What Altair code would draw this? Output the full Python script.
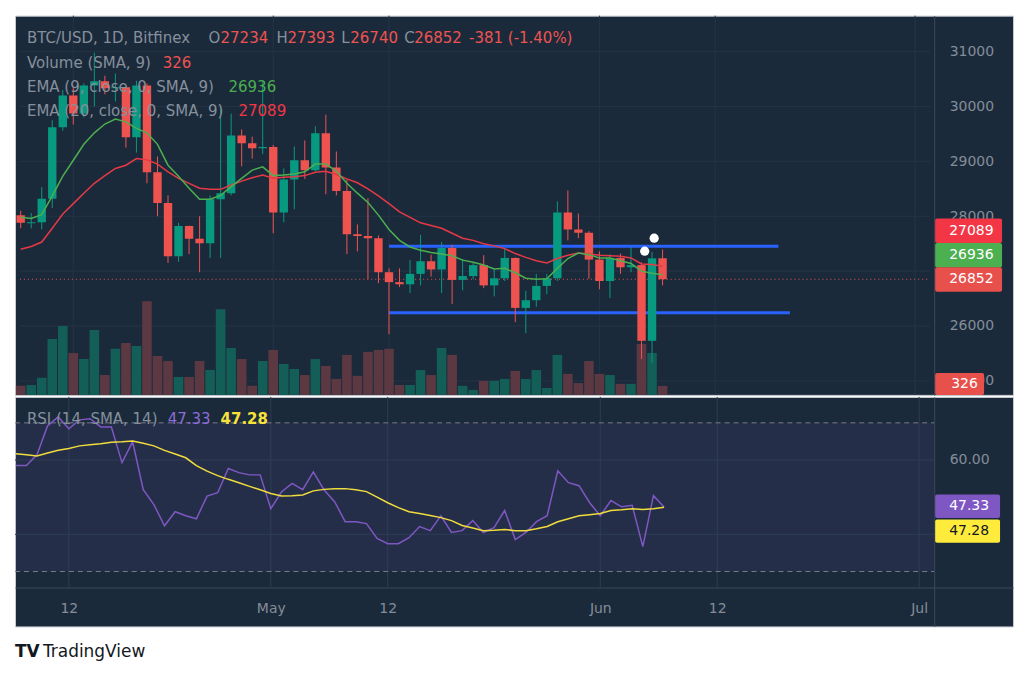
import altair as alt
import pandas as pd
import numpy as np

# ------------------------------------------------------------------ data
dates = pd.date_range("2023-04-07", "2023-06-07", freq="D")

opens = [28020, 27870, 27890, 28320, 29620, 30200, 29870, 30380, 30460, 30330,
         30350, 29440, 30380, 28800, 28240, 27270, 27820, 27590, 27510, 28310,
         28420, 29470, 29330, 29240, 29260, 28070, 28670, 29020, 28840, 29510,
         28890, 28460, 27670, 27640, 27600, 26980, 26800, 26760, 26950, 27180,
         27030, 27420, 26840, 26910, 27110, 26740, 26870, 27240, 26330, 26470,
         26730, 26870, 28070, 27760, 27700, 27210, 26820, 27240, 27070, 27110,
         25730, 27234]
highs = [28100, 28060, 28530, 29750, 30300, 30360, 30420, 30980, 30560, 30600,
         30360, 30470, 30420, 29090, 28380, 27880, 27830, 28000, 28380, 30020,
         29870, 29580, 29450, 30450, 29300, 28870, 29270, 29380, 29640, 29850,
         29180, 28670, 27850, 28330, 27650, 27050, 27050, 27200, 27660, 27300,
         27530, 27480, 27220, 27170, 27290, 27040, 27420, 27250, 26640, 26950,
         26950, 28270, 28470, 28050, 27730, 27360, 27310, 27320, 27440, 27160,
         27350, 27393]
lows = [27780, 27780, 27760, 28150, 29560, 29670, 29800, 30000, 30220, 30090,
        29250, 29160, 28600, 28000, 27150, 27170, 27310, 26980, 27240, 27240,
        28380, 28910, 29050, 29130, 27690, 27890, 28130, 28680, 28810, 28400,
        28380, 27310, 27360, 26850, 26780, 25850, 26710, 26600, 26740, 26900,
        26600, 26400, 26650, 26850, 26690, 26540, 26820, 26070, 25870, 26350,
        26580, 26820, 27560, 27600, 26860, 26670, 26510, 26950, 26980, 25400,
        25330, 26740]
closes = [27880, 27890, 28320, 29620, 30200, 29870, 30380, 30460, 30330, 30350,
          29440, 30380, 28800, 28240, 27270, 27820, 27590, 27510, 28310, 28420,
          29470, 29330, 29240, 29260, 28070, 28670, 29020, 28840, 29510, 28890,
          28460, 27670, 27640, 27600, 26980, 26800, 26760, 26950, 27180, 27030,
          27420, 26840, 26910, 27110, 26740, 26870, 27240, 26330, 26470, 26730,
          26870, 28070, 27760, 27700, 27210, 26820, 27240, 27070, 27110, 25730,
          27233, 26852]
volumes = [330, 360, 620, 2030, 2500, 1520, 1300, 2350, 720, 1670,
           1880, 1770, 3400, 1410, 1230, 650, 650, 1230, 900, 3110,
           1700, 1300, 330, 1230, 1630, 1120, 940, 720, 1300, 1050,
           580, 1450, 690, 1560, 1630, 1670, 360, 360, 900, 720,
           1700, 1450, 330, 180, 510, 510, 580, 870, 580, 900,
           250, 1450, 760, 430, 1230, 760, 720, 400, 400, 1850,
           1520, 326]
ema9 = [27980, 27960, 28030, 28370, 28730, 29020, 29310, 29520, 29680, 29770,
        29720, 29600, 29520, 29310, 28930, 28730, 28510, 28310, 28310, 28380,
        28540, 28690, 28840, 28900, 28740, 28750, 28770, 28810, 28950, 28950,
        28820, 28600, 28420, 28250, 28020, 27760, 27560, 27440, 27380, 27340,
        27310, 27280, 27200, 27160, 27110, 27040, 27050, 26970, 26870, 26850,
        26860, 27050, 27230, 27330, 27300, 27240, 27240, 27190, 27140, 27000,
        26960, 26936]
ema20 = [27400, 27450, 27530, 27780, 28040, 28230, 28420, 28600, 28740, 28870,
         28930, 29050, 29030, 28950, 28810, 28690, 28600, 28510, 28490, 28490,
         28570, 28640, 28700, 28750, 28690, 28710, 28720, 28740, 28800, 28820,
         28760, 28680, 28610, 28500, 28370, 28230, 28080, 27980, 27880, 27830,
         27780, 27690, 27600, 27560, 27500, 27460, 27410, 27320, 27250, 27190,
         27150, 27230, 27290, 27330, 27310, 27290, 27280, 27270, 27240, 27130,
         27120, 27089]
rsi = [58.5, 58.5, 61.4, 69.2, 71.6, 68.4, 70.8, 71.1, 68.9, 68.9,
       59.3, 64.9, 52.0, 48.0, 42.3, 46.1, 45.0, 44.2, 50.3, 51.2,
       57.7, 56.6, 56.0, 56.0, 46.9, 51.4, 53.7, 52.0, 56.8, 52.0,
       48.8, 43.4, 43.4, 42.9, 38.9, 37.5, 37.5, 39.1, 42.1, 41.0,
       45.0, 40.5, 41.0, 43.7, 40.5, 41.8, 46.4, 38.6, 40.5, 43.4,
       45.0, 57.1, 53.9, 53.1, 48.5, 45.0, 49.1, 47.4, 47.8, 36.7,
       50.4, 47.33]
rsi_ma = [61.7, 61.4, 61.1, 61.9, 62.6, 63.1, 63.8, 64.1, 64.4, 64.8,
          64.9, 65.1, 64.5, 63.8, 62.6, 61.6, 60.6, 58.5, 57.0, 55.8,
          54.8, 53.9, 52.9, 52.0, 51.0, 50.3, 50.4, 50.6, 51.7, 52.1,
          52.3, 52.3, 52.0, 51.5, 50.0, 48.5, 47.2, 46.1, 45.6, 45.1,
          44.5, 43.7, 42.4, 41.7, 41.0, 41.1, 41.3, 41.0, 41.0, 41.5,
          42.1, 43.4, 44.2, 45.0, 45.3, 45.6, 46.4, 46.6, 46.9, 46.7,
          46.9, 47.28]

price_grid = [25000, 26000, 27000, 28000, 29000, 30000, 31000]
price_labels = [25000, 26000, 28000, 29000, 30000, 31000]   # 27000 sits under the badges
rsi_grid = [40, 60]
rsi_labels = [60]                                            # 40.00 sits under the badge
rsi_bands = [70, 30]
time_tick_dates = ["2023-04-12", "2023-05-01", "2023-05-12", "2023-06-01", "2023-06-12", "2023-07-01"]
time_tick_labels = ["12", "May", "12", "Jun", "12", "Jul"]

# drawn support / resistance levels (day offsets from Apr 12)
level_price = [27455, 26240]
level_start = [30, 30]
level_end = [67.0, 68.1]
marker_day = [54.3, 55.2]
marker_price = [27364, 27600]

# ------------------------------------------------------------------ style
FONT = "DejaVu Sans"
BG = "#1b2a3b"
GRID = "#243446"
RGRID = "#2e3d56"
SEP = "#3a4858"
FRAME = "#c9cdd3"
GRAY = "#86909c"
LBL = "#848d99"
UP, DOWN = "#089981", "#ef5350"
VUP, VDOWN = "#135e57", "#5c3842"
EMA9C, EMA20C = "#4caf50", "#e53945"
PURPLE, YELLOW = "#7e57c2", "#f0dc3c"

W, H1, H2 = 1000, 380, 230
XMIN, XMAX, XSEP = -5.07, 88.83, 81.41
PMIN, PMAX = 24745, 31655
VMAX = 13756
RMIN, RMAX = 15.23, 76.98

REF = pd.Timestamp("2023-04-12")
day = [(t - REF).days for t in dates]
tick_days = [(pd.Timestamp(t) - REF).days for t in time_tick_dates]

df = pd.DataFrame({"d": day, "open": opens, "high": highs, "low": lows, "close": closes,
                   "volume": volumes, "ema9": ema9, "ema20": ema20, "rsi": rsi, "rsi_ma": rsi_ma})
up = df["close"] >= df["open"]
df["body_color"] = np.where(up, UP, DOWN)
df["vol_color"] = np.where(up, VUP, VDOWN)

xs = alt.Scale(domain=[XMIN, XMAX], nice=False, zero=False)
ps = alt.Scale(domain=[PMIN, PMAX], nice=False, zero=False)
vs = alt.Scale(domain=[0, VMAX], nice=False, zero=False)
rs = alt.Scale(domain=[RMIN, RMAX], nice=False, zero=False)


def X(f, axis=None):
    if axis is None:
        return alt.X(f, type="quantitative", scale=xs, axis=None)
    return alt.X(f, type="quantitative", scale=xs, axis=axis)


def PY(f, axis=None):
    if axis is None:
        return alt.Y(f, type="quantitative", scale=ps, axis=None)
    return alt.Y(f, type="quantitative", scale=ps, axis=axis)


def RY(f, axis=None):
    if axis is None:
        return alt.Y(f, type="quantitative", scale=rs, axis=None)
    return alt.Y(f, type="quantitative", scale=rs, axis=axis)


def label(text, x, y, color, size=15, weight="normal", align="left"):
    return alt.Chart(pd.DataFrame({"t": [text]})).mark_text(
        align=align, baseline="middle", font=FONT, fontSize=size, fontWeight=weight, color=color
    ).encode(x=alt.value(x), y=alt.value(y), text="t:N")


# ------------------------------------------------------------------ price pane
price_axis = alt.Axis(orient="right", offset=-79, values=price_labels, format="d", grid=False,
                      ticks=False, tickSize=0, domainColor=SEP, domainWidth=1, labelColor=LBL,
                      labelFont=FONT, labelFontSize=14, labelPadding=15, labelAlign="left",
                      labelBaseline="middle", zindex=0, title=None)

hgrid = alt.Chart(pd.DataFrame({"price": price_grid, "x0": XMIN, "x1": XSEP})).mark_rule(
    color=GRID, strokeWidth=1).encode(x=X("x0"), x2="x1", y=PY("price", price_axis))
vgrid = alt.Chart(pd.DataFrame({"d": tick_days})).mark_rule(color=GRID, strokeWidth=1).encode(
    x=X("d"), y=alt.value(0), y2=alt.value(H1))
vol = alt.Chart(df).mark_bar(size=9.6, clip=True).encode(
    x=X("d"), y=alt.Y("volume:Q", scale=vs, axis=None), color=alt.Color("vol_color:N", scale=None))
last_line = alt.Chart(pd.DataFrame({"price": [closes[-1]], "x0": XMIN, "x1": XSEP})).mark_rule(
    color=DOWN, strokeWidth=1, strokeDash=[1, 3]).encode(x=X("x0"), x2="x1", y=PY("price"))
levels = alt.Chart(pd.DataFrame({"price": level_price, "s": level_start, "e": level_end})).mark_rule(
    color="#2962ff", strokeWidth=3).encode(x=X("s"), x2="e", y=PY("price"))
wicks = alt.Chart(df).mark_rule(strokeWidth=1, clip=True).encode(
    x=X("d"), y=PY("low"), y2="high", color=alt.Color("body_color:N", scale=None))
bodies = alt.Chart(df).mark_bar(size=8.4, clip=True).encode(
    x=X("d"), y=PY("open"), y2="close", color=alt.Color("body_color:N", scale=None))
l20 = alt.Chart(df).mark_line(color=EMA20C, strokeWidth=1.5, clip=True).encode(x=X("d"), y=PY("ema20"))
l9 = alt.Chart(df).mark_line(color=EMA9C, strokeWidth=1.5, clip=True).encode(x=X("d"), y=PY("ema9"))
dots = alt.Chart(pd.DataFrame({"d": marker_day, "price": marker_price})).mark_circle(
    color="white", size=85, opacity=1).encode(x=X("d"), y=PY("price"))

HALF_P = 223
badge_df = pd.DataFrame({"label": [str(ema20[-1]), str(ema9[-1]), str(closes[-1])],
                         "yc": [27736, 27291, 26848],
                         "fill": ["#f23645", "#4caf50", "#e8504c"]})
badge_df["y0"] = badge_df["yc"] - HALF_P
badge_df["y1"] = badge_df["yc"] + HALF_P
badges = alt.Chart(badge_df).mark_rect(cornerRadius=2).encode(
    x=alt.value(922), x2=alt.value(989), y=PY("y0"), y2="y1", color=alt.Color("fill:N", scale=None))
badge_txt = alt.Chart(badge_df).mark_text(align="left", baseline="middle", font=FONT, fontSize=14,
                                          color="white").encode(x=alt.value(936), y=PY("yc"), text="label:N")
vbadge = alt.Chart(pd.DataFrame({"t": [str(volumes[-1])]})).mark_rect(color="#e8504c", cornerRadius=2).encode(
    x=alt.value(922), x2=alt.value(971), y=alt.value(358), y2=alt.value(380))
vbadge_txt = label(str(volumes[-1]), 938, 369, "white", size=14)

chg = closes[-1] - closes[-2]
pct = chg / closes[-2] * 100
RED = "#ef5350"
head = [
    ("BTC/USD, 1D, Bitfinex", 12, 22, GRAY),
    ("O", 194, 22, GRAY), (str(opens[-1]), 206, 22, RED),
    ("H", 262, 22, GRAY), (str(highs[-1]), 273, 22, RED),
    ("L", 327, 22, GRAY), (str(lows[-1]), 336, 22, RED),
    ("C", 390, 22, GRAY), (str(closes[-1]), 400, 22, RED),
    (f"{chg} ({pct:.2f}%)", 455, 22, RED),
    ("Volume (SMA, 9)", 12, 47, GRAY), (str(volumes[-1]), 148, 47, RED),
    ("EMA (9, close, 0, SMA, 9)", 12, 72, GRAY), (str(ema9[-1]), 214, 72, EMA9C),
    ("EMA (20, close, 0, SMA, 9)", 12, 96, GRAY), (str(ema20[-1]), 224, 96, "#f23645"),
]
head_layers = [label(t, x, y, c) for t, x, y, c in head]

price_chart = alt.layer(
    hgrid, vgrid, vol, last_line, levels, wicks, bodies, l20, l9, dots,
    badges, badge_txt, vbadge, vbadge_txt, *head_layers
).resolve_scale(y="independent").properties(
    width=W, height=H1, view=alt.ViewBackground(fill=BG, stroke=FRAME, strokeWidth=1))

# ------------------------------------------------------------------ RSI pane
expr = " : ".join(f"datum.value == {d} ? '{l}'" for d, l in zip(tick_days, time_tick_labels)) + " : ''"
time_axis = alt.Axis(orient="bottom", offset=-39, values=tick_days, labelExpr=expr, grid=False,
                     ticks=False, tickSize=0, domainColor=SEP, domainWidth=1, labelColor=LBL,
                     labelFont=FONT, labelFontSize=14, labelPadding=21, labelBaseline="middle",
                     labelAlign="center", labelFlush=False, zindex=0, title=None)
rsi_axis = alt.Axis(orient="right", offset=-79, values=rsi_labels, format=".2f", grid=False,
                    ticks=False, tickSize=0, domainColor=SEP, domainWidth=1, labelColor=LBL,
                    labelFont=FONT, labelFontSize=14, labelPadding=15, labelAlign="left",
                    labelBaseline="middle", zindex=0, title=None)

band = alt.Chart(pd.DataFrame({"hi": [rsi_bands[0]], "lo": [rsi_bands[1]], "x0": XMIN, "x1": XSEP})).mark_rect(
    color=PURPLE, opacity=0.1).encode(x=X("x0"), x2="x1", y=RY("hi"), y2="lo")
rgrid = alt.Chart(pd.DataFrame({"v": rsi_grid, "x0": XMIN, "x1": XSEP})).mark_rule(
    color=RGRID, strokeWidth=1).encode(x=X("x0"), x2="x1", y=RY("v", rsi_axis))
rvgrid = alt.Chart(pd.DataFrame({"d": tick_days})).mark_rule(color=RGRID, strokeWidth=1).encode(
    x=X("d"), y=alt.value(0), y2=alt.value(191))
bands = alt.Chart(pd.DataFrame({"v": rsi_bands, "x0": XMIN, "x1": XSEP})).mark_rule(
    color="#787b86", strokeWidth=1, strokeDash=[5, 4]).encode(x=X("x0"), x2="x1", y=RY("v"))
rline = alt.Chart(df).mark_line(color=PURPLE, strokeWidth=1.5, clip=True).encode(
    x=X("d", time_axis), y=RY("rsi"))
maline = alt.Chart(df).mark_line(color=YELLOW, strokeWidth=1.5, clip=True).encode(x=X("d"), y=RY("rsi_ma"))

HALF_R = 3.15
rb_df = pd.DataFrame({"label": [f"{rsi[-1]:.2f}", f"{rsi_ma[-1]:.2f}"], "yc": [47.58, 40.87],
                      "fill": [PURPLE, "#ffeb3b"], "tc": ["white", "#131722"]})
rb_df["y0"] = rb_df["yc"] - HALF_R
rb_df["y1"] = rb_df["yc"] + HALF_R
rbadges = alt.Chart(rb_df).mark_rect(cornerRadius=2).encode(
    x=alt.value(922), x2=alt.value(987), y=RY("y0"), y2="y1", color=alt.Color("fill:N", scale=None))
rbadge_txt = alt.Chart(rb_df).mark_text(align="left", baseline="middle", font=FONT, fontSize=14).encode(
    x=alt.value(936), y=RY("yc"), text="label:N", color=alt.Color("tc:N", scale=None))

rhead = [
    label("RSI (14, SMA, 14)", 12, 22.5, GRAY),
    label(f"{rsi[-1]:.2f}", 153, 22.5, "#8e6ad8"),
    label(f"{rsi_ma[-1]:.2f}", 206, 22.5, "#f6e23a", weight="bold"),
]

rsi_chart = alt.layer(
    band, rgrid, rvgrid, bands, rline, maline, rbadges, rbadge_txt, *rhead
).resolve_scale(x="independent", y="independent").properties(
    width=W, height=H2, view=alt.ViewBackground(fill=BG, stroke=FRAME, strokeWidth=1))

# ------------------------------------------------------------------ logo strip
logo_chart = alt.layer(
    label("TV", 0, 24, "#131722", size=17, weight="bold"),
    label("TradingView", 28, 24, "#131722", size=17),
).properties(width=W, height=44, view=alt.ViewBackground(fill="white", stroke="transparent"))

chart = alt.vconcat(price_chart, rsi_chart, logo_chart, spacing=0).resolve_scale(
    x="independent", y="independent"
).properties(
    padding={"left": 14, "top": 14, "right": 10, "bottom": 0}
).configure(background="white")

chart.save("out.html", embed_options={"renderer": "svg", "actions": False})
